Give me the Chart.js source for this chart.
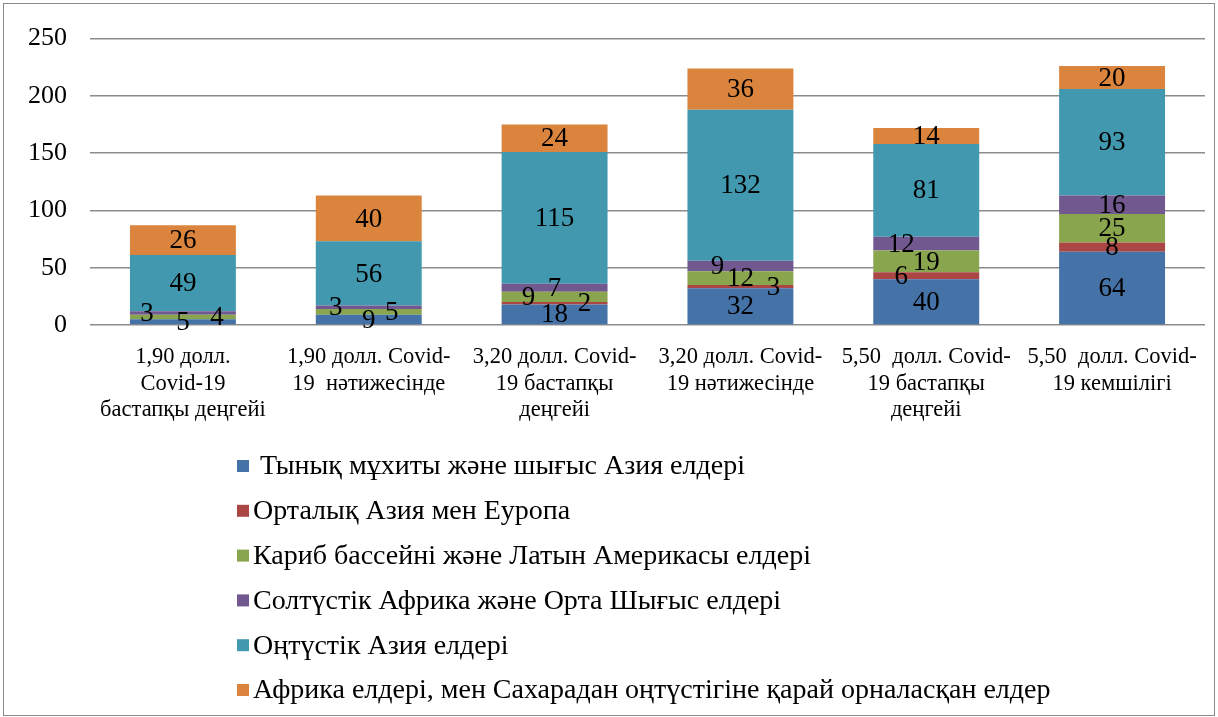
<!DOCTYPE html>
<html>
<head>
<meta charset="utf-8">
<script src="https://cdn.jsdelivr.net/npm/chart.js@4.4.1/dist/chart.umd.min.js"></script>
<style>
  html, body { margin: 0; padding: 0; background: #fff; }
  #wrap { width: 1218px; height: 717px; }
</style>
</head>
<body>
<div id="wrap"><canvas id="chart" width="1218" height="717"></canvas></div>
<script>
// categories (x labels, already split in lines)
const categories = [
  ['1,90 долл.', 'Covid-19', 'бастапқы деңгейі'],
  ['1,90 долл. Covid-', '19  нәтижесінде'],
  ['3,20 долл. Covid-', '19 бастапқы', 'деңгейі'],
  ['3,20 долл. Covid-', '19 нәтижесінде'],
  ['5,50  долл. Covid-', '19 бастапқы', 'деңгейі'],
  ['5,50  долл. Covid-', '19 кемшілігі']
];

const seriesNames = [
  ' Тынық мұхиты және шығыс Азия елдері',
  'Орталық Азия мен Еуропа',
  'Кариб бассейні және Латын Америкасы елдері',
  'Солтүстік Африка және Орта Шығыс елдері',
  'Оңтүстік Азия елдері',
  'Африка елдері, мен Сахарадан оңтүстігіне қарай орналасқан елдер'
];

const eastAsia     = [5, 9, 18, 32, 40, 64];
const centralAsia  = [0, 0, 2, 3, 6, 8];
const latinAmerica = [4, 5, 9, 12, 19, 25];
const middleEast   = [3, 3, 7, 9, 12, 16];
const southAsia    = [49, 56, 115, 132, 81, 93];
const subSaharan   = [26, 40, 24, 36, 14, 20];

const yTicks = [0, 50, 100, 150, 200, 250];

const seriesColors = ['#4572a7', '#aa4643', '#89a54e', '#71588f', '#4198af', '#db843d'];

// horizontal shift of the small value labels (moved by hand in the original)
const labelNudge = [
  [0, 0, 0, 0, 0, 0],
  [0, 0, 30, 33, -25, 0],
  [34, 23, -26, 0, 0, 0],
  [-36, -33, 0, -23, -25, 0],
  [0, 0, 0, 0, 0, 0],
  [0, 0, 0, 0, 0, 0]
];

const serif = "'Liberation Serif', 'Times New Roman', serif";

const valueLabels = {
  id: 'valueLabels',
  afterDatasetsDraw(chart) {
    const ctx = chart.ctx;
    ctx.save();
    ctx.font = '27px ' + serif;
    ctx.fillStyle = '#000';
    ctx.textAlign = 'center';
    ctx.textBaseline = 'middle';
    chart.data.datasets.forEach((ds, i) => {
      chart.getDatasetMeta(i).data.forEach((bar, j) => {
        const v = ds.data[j];
        if (!v) return;
        const cy = (bar.y + bar.base) / 2;
        ctx.fillText(String(v), bar.x + labelNudge[i][j], cy + 1);
      });
    });
    ctx.restore();
  }
};

const frameAndLegend = {
  id: 'frameAndLegend',
  afterDraw(chart) {
    const ctx = chart.ctx;
    ctx.save();
    ctx.strokeStyle = '#8a8a8a';
    ctx.lineWidth = 1;
    ctx.strokeRect(3.5, 3.5, chart.width - 7, chart.height - 5);

    ctx.font = '28px ' + serif;
    ctx.textBaseline = 'middle';
    ctx.textAlign = 'left';
    chart.data.datasets.forEach((ds, i) => {
      const y = 466 + i * 44.8;
      ctx.fillStyle = ds.backgroundColor;
      ctx.fillRect(237, y - 6, 12, 12);
      ctx.fillStyle = '#000';
      ctx.fillText(ds.label, 253, y + 1);
    });
    ctx.restore();
  }
};

const seriesData = [eastAsia, centralAsia, latinAmerica, middleEast, southAsia, subSaharan];

new Chart(document.getElementById('chart'), {
  type: 'bar',
  data: {
    labels: categories,
    datasets: seriesNames.map((name, i) => ({
      label: name,
      data: seriesData[i],
      backgroundColor: seriesColors[i],
      borderWidth: 0,
      categoryPercentage: 1,
      barPercentage: 0.57
    }))
  },
  options: {
    responsive: false,
    animation: false,
    layout: { padding: { left: 0, right: 13, top: 37, bottom: 292 } },
    plugins: {
      legend: { display: false },
      tooltip: { enabled: false }
    },
    scales: {
      x: {
        stacked: true,
        grid: { display: false },
        border: { display: false },
        ticks: {
          color: '#000',
          font: { family: serif, size: 22.5, lineHeight: 1.18 },
          padding: 11,
          maxRotation: 0,
          autoSkip: false
        },
        afterFit(scale) { scale.height = 100; }
      },
      y: {
        stacked: true,
        min: 0,
        max: 250,
        afterBuildTicks(scale) { scale.ticks = yTicks.map(v => ({ value: v })); },
        grid: { color: '#8c8c8c', lineWidth: 1.5, drawTicks: false },
        border: { display: false },
        ticks: {
          color: '#000',
          font: { family: serif, size: 26 },
          padding: 23
        },
        afterFit(scale) { scale.width = 90; }
      }
    }
  },
  plugins: [valueLabels, frameAndLegend]
});
</script>
</body>
</html>
